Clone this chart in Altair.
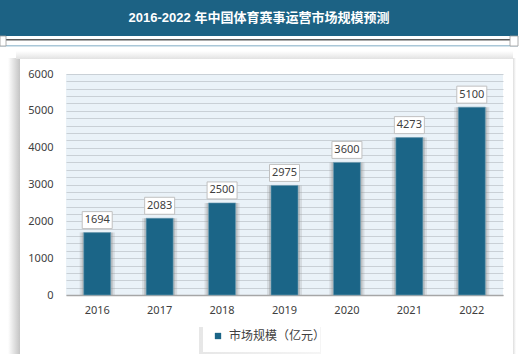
import altair as alt
import pandas as pd

# ---------------- data ----------------
years = ["2016", "2017", "2018", "2019", "2020", "2021", "2022"]
values = [1694, 2083, 2500, 2975, 3600, 4273, 5100]
series_name = "市场规模（亿元）"
title_text = "2016-2022 年中国体育赛事运营市场规模预测"
y_tick_values = list(range(0, 6001, 200))

df = pd.DataFrame({"year": years, "value": values, "series": [series_name] * len(years)})
one = pd.DataFrame({"k": [0]})

W, H = 437, 221
BAR = "#1b6587"
BANNER = "#1c6284"
FONT = "'Noto Sans', 'Noto Sans CJK SC', sans-serif"
TFONT = "'Liberation Sans', 'Noto Sans CJK SC', sans-serif"

x_enc = alt.X("year:N", sort=years,
              scale=alt.Scale(paddingInner=0, paddingOuter=0),
              axis=alt.Axis(title=None, labelAngle=0, ticks=False, grid=False,
                            domainColor="#a6a6a6", domainWidth=1.5,
                            labelPadding=9, labelFontSize=11, labelColor="#404040",
                            labelFont=FONT))
y_scale = alt.Scale(domain=[0, 6000], nice=False)
y_axis = alt.Axis(title=None, values=y_tick_values,
                  labelExpr="datum.value % 1000 === 0 ? datum.label : ''",
                  format="d", domain=False, ticks=False, grid=True,
                  gridColor="#c9d0d6", gridWidth=1,
                  labelPadding=13, labelFontSize=11, labelColor="#404040",
                  labelFont=FONT)
y_enc = alt.Y("value:Q", scale=y_scale, axis=y_axis)

def deco_rect(x1, x2, y1, y2, **kw):
    return alt.Chart(one).mark_rect(**kw).encode(
        x=alt.value(x1), x2=alt.value(x2), y=alt.value(y1), y2=alt.value(y2))

def hgrad(c1, c2):
    return alt.LinearGradient(gradient="linear", x1=0, x2=1, y1=0, y2=0,
                              stops=[alt.GradientStop(color=c1, offset=0),
                                     alt.GradientStop(color=c2, offset=1)])

def vgrad(c1, c2):
    return alt.LinearGradient(gradient="linear", x1=0, x2=0, y1=0, y2=1,
                              stops=[alt.GradientStop(color=c1, offset=0),
                                     alt.GradientStop(color=c2, offset=1)])

# panel shadows (outside the plot area)
shadow_left = deco_rect(-58, -46, -16, 282, fill=hgrad("#ffffff", "#c4c4c4"))
shadow_top = deco_rect(-50, 447, -23, -15, fill=vgrad("#ffffff", "#e2e2e2"))
shadow_right = deco_rect(447, 450, -16, 282, fill=hgrad("#dedede", "#ffffff"))

# banner + separator lines
banner = deco_rect(-66, 452, -74, -38, fill=BANNER)
line_dark = deco_rect(-66, 452, -35, -33.5, fill="#5a5a5a")
line_light = deco_rect(-66, 452, -29, -27.5, fill="#a9c7d8")
bracket_l = deco_rect(-66, -60, -38, -28, fill="white", stroke="#9a9a9a", strokeWidth=0.8)
bracket_r = deco_rect(444, 452, -38, -28, fill="white", stroke="#9a9a9a", strokeWidth=0.8)
title = alt.Chart(one).mark_text(text=title_text, font=TFONT, fontSize=13,
                                 fontWeight="bold", color="white",
                                 align="center", baseline="middle").encode(
    x=alt.value(193), y=alt.value(-56))

# legend box
legend_shadow = deco_rect(133, 255, 253, 282, fill=hgrad("#e4e4e4", "#f4f4f4"), opacity=0.9)
legend_box = deco_rect(137, 254, 251, 278, fill="white")

base = alt.Chart(df)
bar_shadow1 = base.mark_bar(size=35, color="#9a9a9a", opacity=0.25).encode(
    x=x_enc, y=y_enc, y2=alt.datum(0))
bar_shadow2 = base.mark_bar(size=31, color="#8a8a8a", opacity=0.35).encode(
    x=x_enc, y=y_enc, y2=alt.datum(0))
bars = base.mark_bar(size=27, stroke="#6f9fb6", strokeWidth=0.6).encode(
    x=x_enc, y=y_enc, y2=alt.datum(0),
    color=alt.Color("series:N", scale=alt.Scale(domain=[series_name], range=[BAR]),
                    legend=alt.Legend(title=None, orient="none", legendX=146, legendY=256,
                                      symbolType="square", symbolSize=40,
                                      symbolStrokeWidth=0, labelFontSize=12,
                                      labelColor="#404040", labelFont=FONT,
                                      labelOffset=5, padding=0)))
label_box = base.mark_bar(size=30, fill="white", stroke="#c0c0c0", strokeWidth=1,
                          yOffset=-21, y2Offset=-4).encode(
    x=x_enc, y=y_enc, y2="value:Q")
labels = base.mark_text(dy=-12.5, fontSize=11, color="#404040", font=FONT,
                        baseline="middle").encode(
    x=x_enc, y=y_enc, text="value:Q")

chart = alt.layer(
    shadow_left, shadow_top, shadow_right,
    legend_shadow, legend_box,
    bar_shadow1, bar_shadow2, bars, label_box, labels,
    banner, line_dark, line_light, bracket_l, bracket_r, title,
).properties(
    width=W, height=H,
    padding={"left": 66, "top": 74, "right": 17, "bottom": 59},
    autosize=alt.AutoSizeParams(type="none"),
).configure(background="white").configure_view(fill="#eaf2f8", stroke=None)

chart.save("out.html", embed_options={"renderer": "svg", "actions": False})
